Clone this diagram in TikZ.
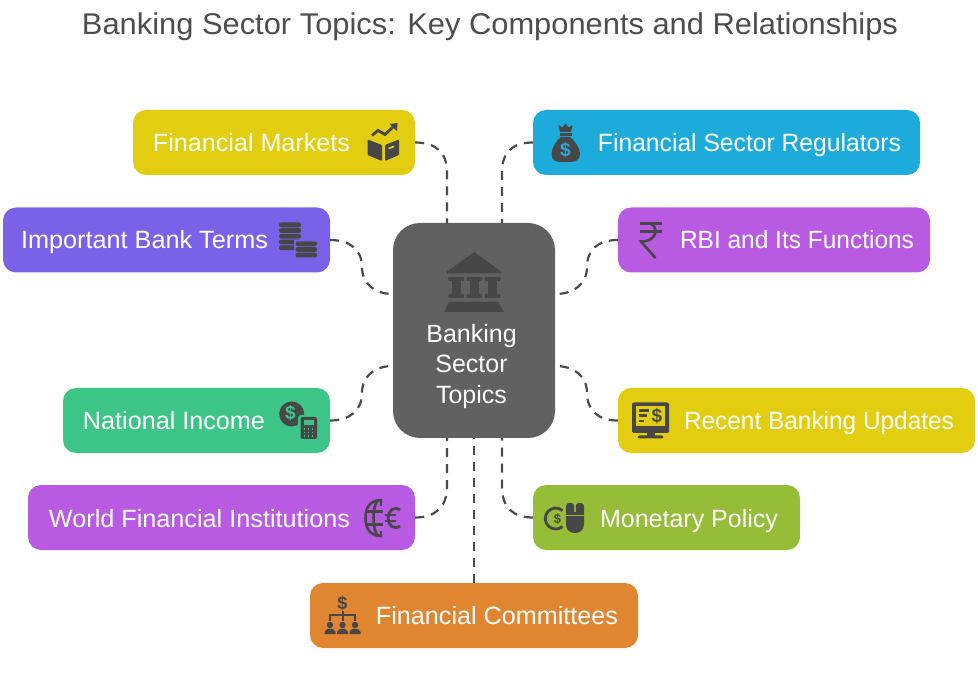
\documentclass[tikz,border=0pt]{standalone}
\usepackage{fontspec}
\setmainfont{Liberation Sans}
\usetikzlibrary{calc}
\definecolor{ink}{HTML}{474747}
\definecolor{linkc}{HTML}{4A4A4A}
\definecolor{titlec}{HTML}{4D4D4D}
\definecolor{hubc}{HTML}{616161}
\definecolor{yel}{HTML}{E2CD10}
\definecolor{blu}{HTML}{1DABDB}
\definecolor{vio}{HTML}{7B61E8}
\definecolor{pur}{HTML}{B95AE3}
\definecolor{grn}{HTML}{3CC587}
\definecolor{olv}{HTML}{95BD38}
\definecolor{org}{HTML}{E08530}
\newcommand{\fitw}[2]{\resizebox{#1pt}{\height}{#2}}
\tikzset{
 x=1pt,y=-1pt,
 card/.style={rectangle,rounded corners=13pt,minimum height=65pt,inner sep=0pt,draw=none},
 lbl/.style={text=white,anchor=base,inner sep=0pt,font=\fontsize{25}{30}\selectfont},
 conn/.style={draw=linkc,line width=2.2pt,dash pattern=on 9pt off 7pt},
 icl/.style={draw=ink,line width=2.2pt},
 dollar/.style={inner sep=0pt,font=\bfseries\fontsize{#1}{#1}\selectfont},
}
\begin{document}
\begin{tikzpicture}
\useasboundingbox (0,0) rectangle (978,676);
\fill[white] (0,0) rectangle (978,676);
\node[text=titlec,anchor=base,inner sep=0pt,font=\fontsize{30}{34}\selectfont] (title) at (490,35) {\fitw{816}{Banking Sector Topics: Key Components and Relationships}};

\node[card,fill=hubc,rounded corners=27pt,minimum width=162pt,minimum height=215pt] (hub) at (474,330.5) {};
\node[card,fill=yel,minimum width=282pt] (fm) at (274,142.5) {};
\node[card,fill=blu,minimum width=387pt] (fr) at (726.5,142.5) {};
\node[card,fill=vio,minimum width=327pt] (bt) at (166.5,240) {};
\node[card,fill=pur,minimum width=312pt] (rb) at (774,240) {};
\node[card,fill=grn,minimum width=267pt] (ni) at (196.5,420.5) {};
\node[card,fill=yel,minimum width=357pt] (ru) at (796.5,420.5) {};
\node[card,fill=pur,minimum width=387pt] (wf) at (221.5,517.5) {};
\node[card,fill=olv,minimum width=267pt] (mp) at (666.5,517.5) {};
\node[card,fill=org,minimum width=328pt] (fc) at (474,615.5) {};

\coordinate (h1) at ($(hub.north)+(-27,0)$);
\coordinate (h2) at ($(hub.north)+(28,0)$);
\coordinate (h3) at ($(hub.west)+(0,-36.5)$);
\coordinate (h4) at ($(hub.east)+(0,-36.5)$);
\coordinate (h5) at ($(hub.west)+(0,35.5)$);
\coordinate (h6) at ($(hub.east)+(0,35.5)$);
\coordinate (h7) at ($(hub.south)+(-27,0)$);
\coordinate (h8) at ($(hub.south)+(28,0)$);

\draw[conn] (fm.east) .. controls +(20,0) and (447,152) .. (447,172) -- (h1);
\draw[conn] (fr.west) .. controls +(-20,0) and (502,152) .. (502,172) -- (h2);
\draw[conn] (bt.east) .. controls +(20,0) and (362,250) .. (362,267) .. controls (362,284) and (375,294) .. (h3);
\draw[conn] (rb.west) .. controls +(-20,0) and (587,250) .. (587,267) .. controls (587,284) and (574,294) .. (h4);
\draw[conn] (ni.east) .. controls +(20,0) and (362,410) .. (362,393) .. controls (362,376) and (375,366) .. (h5);
\draw[conn] (ru.west) .. controls +(-20,0) and (587,410) .. (587,393) .. controls (587,376) and (574,366) .. (h6);
\draw[conn] (wf.east) .. controls +(20,0) and (447,507) .. (447,487) -- (h7);
\draw[conn] (mp.west) .. controls +(-20,0) and (502,507) .. (502,487) -- (h8);
\draw[conn] (fc.north) -- (hub.south);

\node[lbl] (l1) at (251.5,152) {\fitw{197}{Financial Markets}};
\node[lbl] (l2) at (749.5,152) {\fitw{303}{Financial Sector Regulators}};
\node[lbl] (l3) at (144.5,249) {\fitw{247}{Important Bank Terms}};
\node[lbl] (l4) at (797,249) {\fitw{234}{RBI and Its Functions}};
\node[lbl] (l5) at (174,429) {\fitw{182}{National Income}};
\node[lbl] (l6) at (819,429) {\fitw{270}{Recent Banking Updates}};
\node[lbl] (l7) at (199.5,527) {\fitw{301}{World Financial Institutions}};
\node[lbl] (l8) at (689,527) {\fitw{178}{Monetary Policy}};
\node[lbl] (l9) at (497,624) {\fitw{242}{Financial Committees}};
\node[lbl] (c1) at (471.5,343) {Banking};
\node[lbl] (c2) at (471.5,373) {Sector};
\node[lbl] (c3) at (471.5,403) {Topics};

% bank icon
\fill[ink] (474.3,252) -- (501,271.5) -- (501,273.5) -- (447,273.5) -- (447,271.5) -- cycle;
\foreach \cx in {456,474.3,492.5}{
 \fill[ink,rounded corners=1pt] (\cx-8,277) rectangle (\cx+8,281);
 \fill[ink] (\cx-4.5,280) rectangle (\cx+4.5,295);
 \fill[ink,rounded corners=1pt] (\cx-8,294) rectangle (\cx+8,298);
}
\fill[ink] (449,302) -- (498,302) -- (504,312) -- (444,312) -- cycle;

% book + chart icon
\fill[ink,rounded corners=1pt] (367.5,139.5) -- (382,145) -- (382,161) -- (367.5,155) -- cycle;
\fill[ink,rounded corners=1pt] (385,145) -- (399,139.5) -- (399,155) -- (385,161) -- cycle;
\fill[yel] (388.5,147.5) -- (394,145.6) -- (394,147.4) -- (388.5,149.3) -- cycle;
\draw[icl,line width=2.8pt] (372,135.5) -- (378,130.5) -- (385,134.5) -- (394,126);
\fill[ink] (389.5,124) -- (397.5,123) -- (397,131) -- cycle;

% money bag icon
\fill[ink] (561,137) -- (570,137) .. controls (575,141) and (580,148) .. (580,154) .. controls (580,160) and (575,162) .. (570,162) -- (561,162) .. controls (556,162) and (551.5,160) .. (551.5,154) .. controls (551.5,148) and (556,141) .. (561,137) -- cycle;
\fill[ink] (559.5,133) rectangle (571.5,136);
\fill[ink] (560,132) -- (558.5,125) -- (562.5,127.5) -- (565.5,123.5) -- (568.5,127.5) -- (572.5,125) -- (571,132) -- cycle;
\node[dollar=19,text=blu] (mb) at (565.5,150) {\$};

% coins icon
\foreach \yy in {222.5,228.2,233.9,239.6,245.3}{
 \fill[ink,rounded corners=2.2pt] (279,\yy) rectangle (301,\yy+4.8);
}
\fill[vio] (293.5,240) rectangle (318.5,259.5);
\foreach \yy in {241.3,247,252.7}{
 \fill[ink,rounded corners=2.2pt] (295.5,\yy) rectangle (317,\yy+4.8);
}

% rupee icon
\draw[icl,line width=2.6pt] (640,223.3) -- (662,223.3);
\draw[icl,line width=2.6pt] (640,231.7) -- (662,231.7);
\draw[icl,line width=2.6pt] (648,223.3) .. controls (658,223.3) and (660,241.5) .. (641,241.5) -- (655.5,258);

% national income icon
\fill[ink] (291.7,414) circle (12.5);
\node[dollar=19,text=grn] (ni1) at (290.5,413) {\$};
\fill[grn,rounded corners=3pt] (298,415) rectangle (319,441);
\fill[ink,rounded corners=2pt] (300.5,417) rectangle (317,439);
\fill[grn] (303.5,420) rectangle (313.5,425);
\foreach \kx in {304.5,308.5,312.5}\foreach \ky in {429,432.5,436}{\fill[grn] (\kx-.9,\ky-.9) rectangle (\kx+.9,\ky+.9);}

% globe + euro icon
\begin{scope}[icl,line width=2.6pt]
\draw (382,500) .. controls (368,500) and (365.5,510) .. (365.5,518) .. controls (365.5,526) and (368,536) .. (382,536);
\draw (378,500) .. controls (372,506) and (372,530) .. (378,536);
\draw (367,511.5) -- (383,511.5);
\draw (367,524.5) -- (383,524.5);
\draw (381,501) -- (381,506);
\draw (381,531) -- (381,535);
\draw[line width=2.8pt] (400,510) .. controls (394,505.5) and (388,511) .. (388,518) .. controls (388,525) and (394,530.5) .. (400,526);
\draw[line width=2.2pt] (385,515) -- (396,515);
\draw[line width=2.2pt] (385,521) -- (396,521);
\end{scope}

% monitor icon
\fill[ink,rounded corners=2pt] (632,402.5) rectangle (669,433);
\fill[yel] (636,406.5) rectangle (665,426.5);
\fill[ink] (647,433) rectangle (655,437);
\fill[ink,rounded corners=1pt] (638,435.5) rectangle (663,438.5);
\fill[ink] (639,409.5) rectangle (648.5,412);
\fill[ink] (639,414.5) rectangle (647,417);
\fill[ink] (639,420) rectangle (644,422.5);
\node[dollar=19,text=ink] (mo1) at (657,416) {\$};

% coin + mouse icon
\draw[icl,line width=2.8pt] (562.5,510.5) arc (-50:-310:10.5);
\node[dollar=13,text=ink] (mc1) at (557.5,519) {\$};
\fill[ink,rounded corners=3pt] (566,503) rectangle (574.2,515);
\fill[ink,rounded corners=3pt] (575.8,503) rectangle (584,515);
\fill[ink] (566,512) -- (584,512) -- (584,524) .. controls (584,530) and (580,533) .. (575,533) .. controls (570,533) and (566,530) .. (566,524) -- cycle;
\fill[olv] (566,515) rectangle (584,516.3);

% committee icon
\node[dollar=18,text=ink] (fc1) at (342.5,603) {\$};
\draw[icl,line width=2pt] (342.5,611) -- (342.5,615);
\draw[icl,line width=2pt] (330,621) -- (330,615) -- (355,615) -- (355,621);
\draw[icl,line width=2pt] (342.5,615) -- (342.5,621);
\foreach \px in {330,342.5,355}{
 \fill[ink] (\px,625) circle (3.2);
 \fill[ink] (\px-5.5,634) -- (\px-5.5,632) .. controls (\px-4.5,627.5) and (\px+4.5,627.5) .. (\px+5.5,632) -- (\px+5.5,634) -- cycle;
}
\end{tikzpicture}
\end{document}
